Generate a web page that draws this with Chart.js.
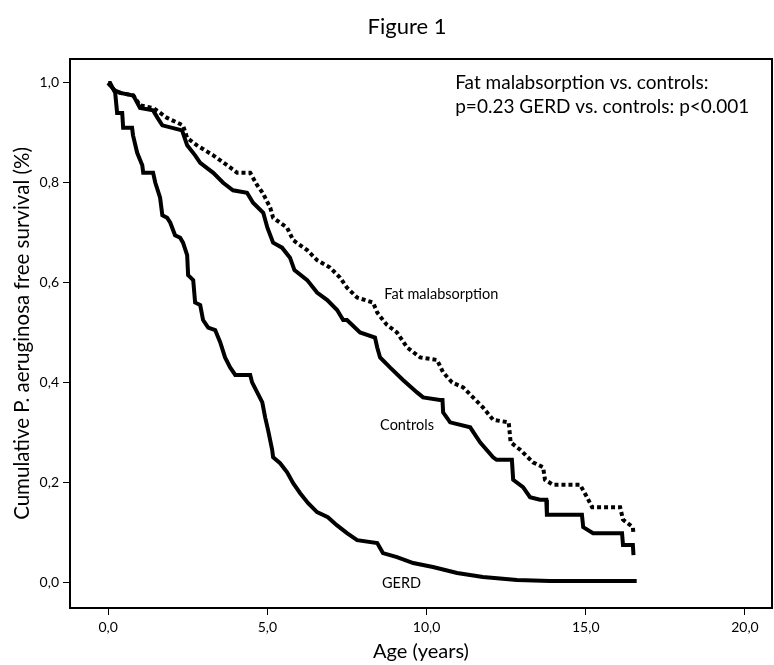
<!DOCTYPE html>
<html>
<head>
<meta charset="utf-8">
<script src="https://cdn.jsdelivr.net/npm/chart.js@4/dist/chart.umd.min.js"></script>
<style>
    html, body { margin: 0; padding: 0; background: #fff; }
</style>
</head>
<body>
<canvas id="kmChart" width="774" height="665"></canvas>
<script>
// Kaplan-Meier curves (age in years, cumulative survival)
// dense parts are read as points along the curve, sparse tails as step corners
const gerdAge  = [0, 0.06, 0.22, 0.28, 0.44, 0.47, 0.75, 0.78, 0.91, 1.07, 1.1, 1.41, 1.48, 1.63, 1.7, 1.85, 1.95, 2.1, 2.26, 2.35, 2.48, 2.51, 2.67, 2.73, 2.89, 2.98, 3.14, 3.36, 3.52, 3.67, 3.83, 3.99, 4.46, 4.52, 4.68, 4.84, 4.93, 5.02, 5.15, 5.18, 5.4, 5.62, 5.81, 6.03, 6.28, 6.56, 6.9, 7.18, 7.5, 7.82, 8.45, 8.63, 9.07, 9.58, 10.2, 10.96, 11.77, 12.84, 13.88, 16.6];
const gerdSurv = [1.0, 1.0, 0.98, 0.94, 0.94, 0.91, 0.91, 0.895, 0.86, 0.835, 0.82, 0.82, 0.80, 0.77, 0.735, 0.73, 0.72, 0.695, 0.69, 0.68, 0.655, 0.615, 0.605, 0.56, 0.555, 0.525, 0.51, 0.505, 0.48, 0.45, 0.43, 0.415, 0.415, 0.40, 0.38, 0.36, 0.33, 0.305, 0.265, 0.25, 0.238, 0.22, 0.198, 0.178, 0.158, 0.14, 0.13, 0.114, 0.098, 0.084, 0.078, 0.058, 0.05, 0.038, 0.03, 0.018, 0.01, 0.004, 0.002, 0.002];

const controlsAge  = [0, 0.2, 0.38, 0.79, 1.0, 1.41, 1.55, 1.7, 2.32, 2.48, 2.73, 2.89, 3.3, 3.61, 3.92, 4.36, 4.55, 4.87, 5.0, 5.18, 5.46, 5.71, 5.85, 6.25, 6.56, 6.88, 7.19, 7.38, 7.5, 7.91, 8.38, 8.45, 8.54, 8.85, 9.26, 9.7, 9.89, 10.42, 10.5, 10.52, 10.74, 11.37, 11.68, 12.09, 12.2, 12.68, 12.72, 13.03, 13.25, 13.56, 13.76, 13.78, 14.88, 14.92, 15.23, 16.14, 16.17, 16.48, 16.5];
const controlsSurv = [1.0, 0.985, 0.98, 0.975, 0.95, 0.945, 0.93, 0.915, 0.905, 0.875, 0.855, 0.84, 0.82, 0.8, 0.785, 0.78, 0.76, 0.74, 0.71, 0.68, 0.67, 0.65, 0.625, 0.605, 0.58, 0.565, 0.545, 0.525, 0.525, 0.50, 0.49, 0.47, 0.45, 0.43, 0.405, 0.38, 0.37, 0.365, 0.365, 0.34, 0.32, 0.31, 0.28, 0.25, 0.245, 0.245, 0.205, 0.19, 0.17, 0.165, 0.165, 0.135, 0.135, 0.11, 0.098, 0.098, 0.074, 0.074, 0.054];

const fatAge  = [0, 0.2, 0.38, 0.79, 1.0, 1.41, 1.85, 2.35, 2.48, 2.79, 3.3, 3.74, 4.05, 4.46, 4.68, 4.85, 5.09, 5.18, 5.62, 5.81, 6.25, 6.56, 6.97, 7.28, 7.5, 7.82, 8.32, 8.45, 8.63, 8.76, 9.07, 9.39, 9.8, 10.33, 10.52, 10.8, 11.15, 11.46, 11.77, 12.09, 12.58, 12.64, 12.94, 13.34, 13.66, 13.72, 13.97, 14.82, 15.04, 15.2, 16.08, 16.17, 16.48, 16.5];
const fatSurv = [1.0, 0.985, 0.98, 0.975, 0.955, 0.95, 0.93, 0.915, 0.89, 0.875, 0.855, 0.835, 0.82, 0.82, 0.795, 0.78, 0.75, 0.73, 0.71, 0.685, 0.665, 0.645, 0.63, 0.61, 0.59, 0.57, 0.56, 0.54, 0.525, 0.515, 0.5, 0.47, 0.45, 0.445, 0.42, 0.4, 0.39, 0.37, 0.35, 0.325, 0.32, 0.28, 0.265, 0.24, 0.23, 0.205, 0.195, 0.195, 0.17, 0.15, 0.15, 0.125, 0.11, 0.095];

const xTickValues = [0, 5, 10, 15, 20];
const yTickValues = [0, 0.2, 0.4, 0.6, 0.8, 1.0];

const figureTitle = 'Figure 1';
const pValueLines = ['Fat malabsorption vs. controls:', 'p=0.23 GERD vs. controls: p<0.001'];
const curveLabels = [
    { text: 'Fat malabsorption', x: 8.67, y: 0.577 },
    { text: 'Controls', x: 8.54, y: 0.315 },
    { text: 'GERD', x: 8.6, y: -0.002 }
];

const FONT = 'Lato, "Open Sans", sans-serif';

function toPoints(xs, ys) {
    return xs.map((v, i) => ({ x: v, y: ys[i] }));
}

function commaFormat(value) {
    return value.toFixed(1).replace('.', ',');
}

// frame, title and text annotations
const kmTextPlugin = {
    id: 'kmText',
    afterDraw(chart) {
        const { ctx, chartArea, scales } = chart;
        ctx.save();
        ctx.strokeStyle = '#000';
        ctx.lineWidth = 2;
        ctx.strokeRect(chartArea.left, chartArea.top, chartArea.right - chartArea.left, chartArea.bottom - chartArea.top);

        ctx.fillStyle = '#000';
        ctx.textBaseline = 'middle';
        ctx.textAlign = 'center';
        ctx.font = '22px ' + FONT;
        ctx.fillText(figureTitle, 407, 27);

        ctx.textAlign = 'left';
        ctx.font = '19px ' + FONT;
        ctx.fillText(pValueLines[0], scales.x.getPixelForValue(10.9), scales.y.getPixelForValue(1.0));
        ctx.fillText(pValueLines[1], scales.x.getPixelForValue(10.9), scales.y.getPixelForValue(0.952));

        ctx.font = '14.5px ' + FONT;
        curveLabels.forEach(l => {
            ctx.fillText(l.text, scales.x.getPixelForValue(l.x), scales.y.getPixelForValue(l.y));
        });
        ctx.restore();
    }
};

const lineBase = {
    borderColor: '#000',
    borderWidth: 4,
    pointRadius: 0,
    tension: 0,
    fill: false
};

new Chart(document.getElementById('kmChart'), {
    type: 'line',
    data: {
        datasets: [
            Object.assign({ label: 'GERD', data: toPoints(gerdAge, gerdSurv) }, lineBase),
            Object.assign({ label: 'Controls', data: toPoints(controlsAge, controlsSurv) }, lineBase),
            Object.assign({ label: 'Fat malabsorption', data: toPoints(fatAge, fatSurv), borderDash: [4, 3] }, lineBase)
        ]
    },
    options: {
        responsive: false,
        animation: false,
        layout: { padding: { top: 59, right: 2, bottom: 0, left: 0 } },
        plugins: {
            legend: { display: false },
            tooltip: { enabled: false },
            title: { display: false }
        },
        scales: {
            x: {
                type: 'linear',
                min: -1.2,
                max: 20.85,
                afterBuildTicks: scale => { scale.ticks = xTickValues.map(v => ({ value: v })); },
                afterFit: scale => { scale.height = 57; },
                ticks: {
                    color: '#000',
                    font: { family: FONT, size: 14 },
                    padding: 4,
                    maxRotation: 0,
                    callback: v => commaFormat(v)
                },
                grid: { drawOnChartArea: false, drawTicks: true, tickLength: 7, color: '#000', lineWidth: 1 },
                border: { display: true, color: '#000', width: 2 },
                title: {
                    display: true,
                    text: 'Age (years)',
                    color: '#000',
                    font: { family: FONT, size: 20 },
                    padding: { top: 0, bottom: 1 }
                }
            },
            y: {
                type: 'linear',
                min: -0.052,
                max: 1.048,
                afterBuildTicks: scale => { scale.ticks = yTickValues.map(v => ({ value: v })); },
                afterFit: scale => { scale.width = 70; },
                ticks: {
                    color: '#000',
                    font: { family: FONT, size: 14 },
                    padding: 4,
                    callback: v => commaFormat(v)
                },
                grid: { drawOnChartArea: false, drawTicks: true, tickLength: 7, color: '#000', lineWidth: 1 },
                border: { display: true, color: '#000', width: 2 },
                title: {
                    display: true,
                    text: 'Cumulative P. aeruginosa free survival (%)',
                    color: '#000',
                    font: { family: FONT, size: 20.5 },
                    padding: { top: 10, bottom: 0 }
                }
            }
        }
    },
    plugins: [kmTextPlugin]
});
</script>
</body>
</html>
